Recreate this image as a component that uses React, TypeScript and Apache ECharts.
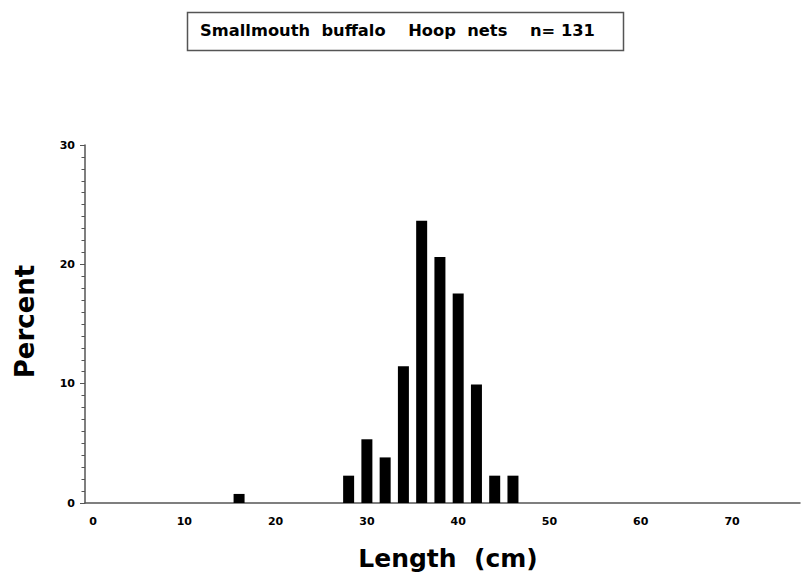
import React, { useEffect, useRef } from "react";
import * as echarts from "echarts";

const lengthBins = [16, 28, 30, 32, 34, 36, 38, 40, 42, 44, 46];
const percentValues = [0.76, 2.29, 5.34, 3.82, 11.45, 23.66, 20.61, 17.56, 9.92, 2.29, 2.29];
const xTickLabels = [0, 10, 20, 30, 40, 50, 60, 70];
const titleText = "Smallmouth  buffalo    Hoop  nets    n= 131";
const xAxisTitle = "Length  (cm)";
const yAxisTitle = "Percent";

const FONT = "'DejaVu Sans', 'Liberation Sans', Arial, sans-serif";

export default function App() {
  const ref = useRef<HTMLDivElement>(null);
  useEffect(() => {
    if (!ref.current) return;
    const chart = echarts.init(ref.current, null, { renderer: "svg" });
    chart.setOption({
      animation: false,
      backgroundColor: "#ffffff",
      grid: { left: 85, top: 145, right: 1, bottom: 78, containLabel: false },
      xAxis: {
        type: "value",
        min: -0.876,
        max: 77.44,
        axisLine: { show: true, onZero: false, lineStyle: { color: "#555", width: 1.5 } },
        axisTick: { show: false },
        splitLine: { show: false },
        axisLabel: {
          customValues: xTickLabels,
          margin: 13,
          fontFamily: FONT,
          fontWeight: "bold",
          fontSize: 11,
          color: "#000",
        },
      },
      yAxis: {
        type: "value",
        min: 0,
        max: 30,
        interval: 10,
        axisLine: { show: true, onZero: false, lineStyle: { color: "#555", width: 1.5 } },
        axisTick: { show: true, length: 5, lineStyle: { color: "#555" } },
        minorTick: { show: true, splitNumber: 10, length: 3.5, lineStyle: { color: "#555" } },
        splitLine: { show: false },
        axisLabel: {
          margin: 10,
          fontFamily: FONT,
          fontWeight: "bold",
          fontSize: 11,
          color: "#000",
        },
      },
      series: [
        {
          type: "bar",
          barWidth: 11,
          itemStyle: { color: "#000" },
          data: lengthBins.map((x, i) => [x, percentValues[i]]),
        },
      ],
      graphic: [
        {
          type: "rect",
          shape: { x: 187.5, y: 12.5, width: 436, height: 38 },
          style: { fill: "#fff", stroke: "#555", lineWidth: 1.5 },
        },
        {
          type: "text",
          x: 397.5,
          y: 30,
          style: {
            text: titleText,
            fontFamily: FONT,
            fontWeight: "bold",
            fontSize: 16.3,
            fill: "#000",
            align: "center",
            verticalAlign: "middle",
          },
        },
        {
          type: "text",
          x: 448,
          y: 558,
          style: {
            text: xAxisTitle,
            fontFamily: FONT,
            fontWeight: "bold",
            fontSize: 25,
            fill: "#000",
            align: "center",
            verticalAlign: "middle",
          },
        },
        {
          type: "text",
          x: 25,
          y: 321.5,
          rotation: Math.PI / 2,
          style: {
            text: yAxisTitle,
            fontFamily: FONT,
            fontWeight: "bold",
            fontSize: 26,
            fill: "#000",
            align: "center",
            verticalAlign: "middle",
          },
        },
      ],
    });
    return () => chart.dispose();
  }, []);
  return <div ref={ref} style={{ width: 801, height: 581, position: "absolute", left: 0, top: 0 }} />;
}
